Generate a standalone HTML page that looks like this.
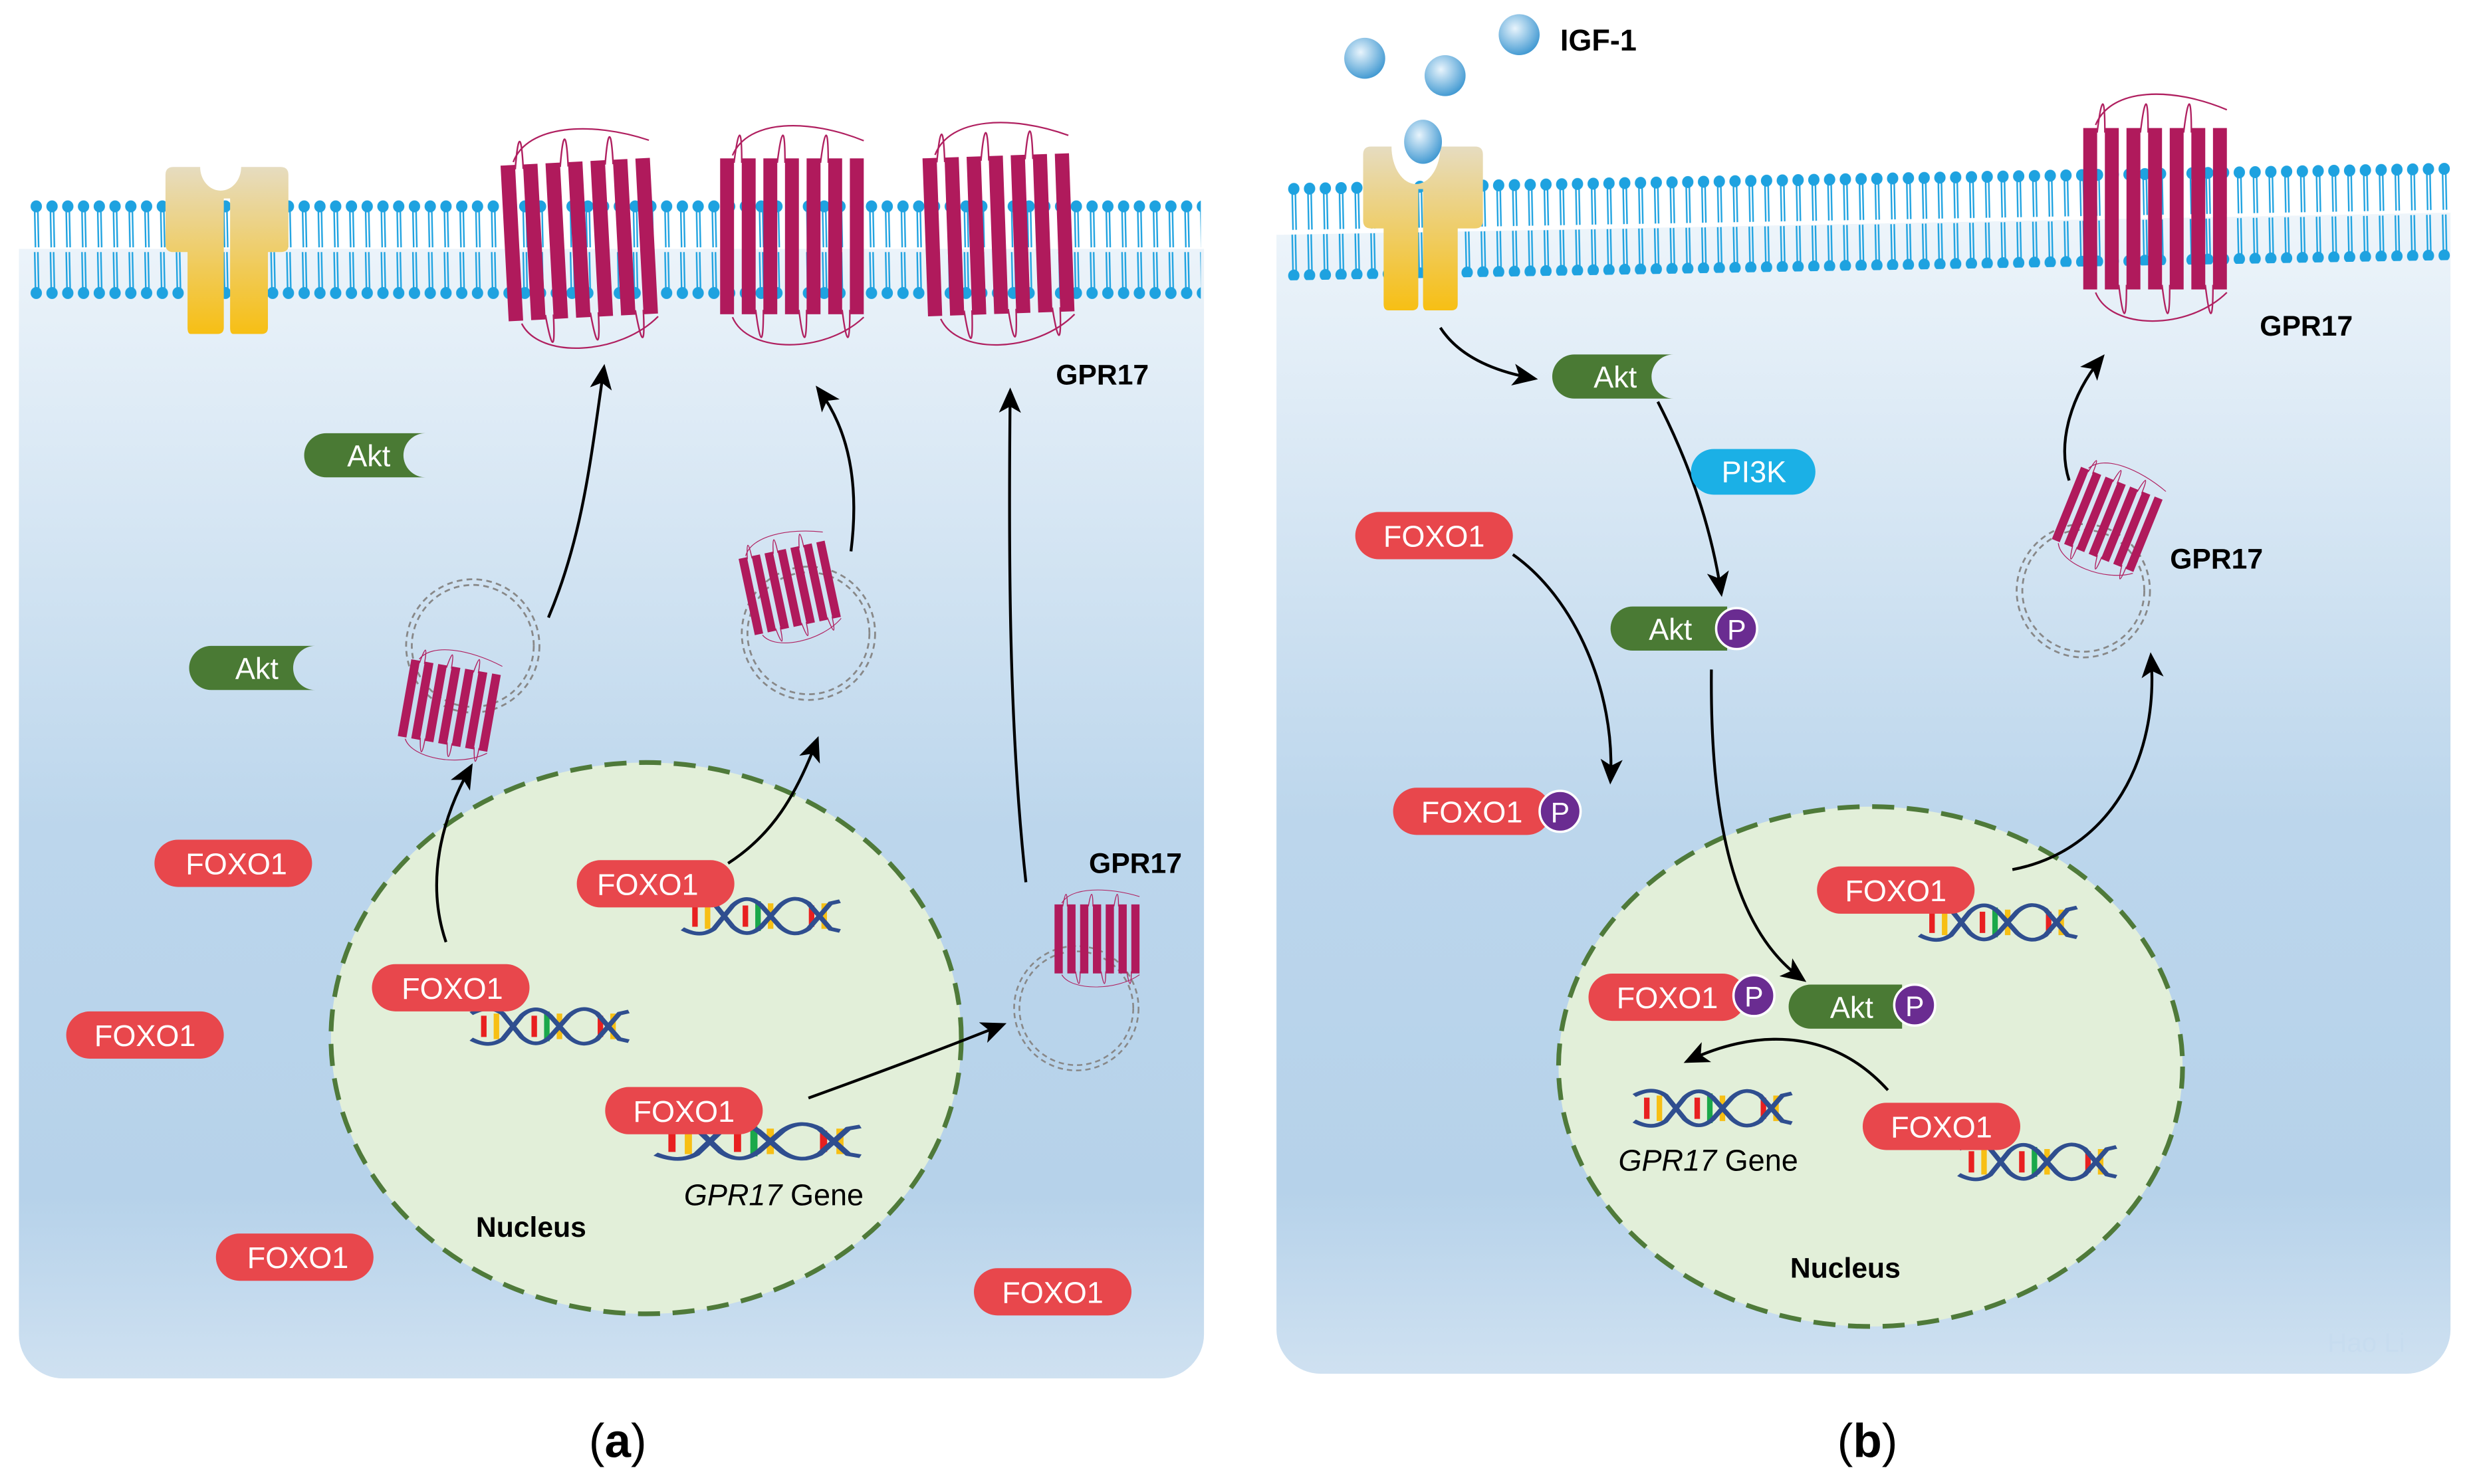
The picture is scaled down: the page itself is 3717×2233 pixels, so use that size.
<!DOCTYPE html>
<html><head><meta charset="utf-8"><style>
html,body{margin:0;padding:0;background:#fff;}
svg{display:block;}
text{font-family:"Liberation Sans",sans-serif;}
</style></head><body>
<svg width="3717" height="2233" viewBox="0 0 1568 942" xmlns="http://www.w3.org/2000/svg">
<defs>
<linearGradient id="bg" x1="0" y1="0" x2="0" y2="1">
<stop offset="0" stop-color="#f3f8fc"/><stop offset="0.55" stop-color="#bcd6ec"/><stop offset="0.85" stop-color="#b6d2ea"/><stop offset="1" stop-color="#cfe1f1"/>
</linearGradient>
<linearGradient id="yel" x1="0" y1="0" x2="0" y2="1"><stop offset="0" stop-color="#e6dcc0"/><stop offset="1" stop-color="#f7bf14"/></linearGradient>
<radialGradient id="ball" cx="0.4" cy="0.35" r="0.7"><stop offset="0" stop-color="#e8f4fc"/><stop offset="1" stop-color="#3a95d0"/></radialGradient>
<pattern id="lip" width="10" height="63" patternUnits="userSpaceOnUse">
<ellipse cx="5" cy="4" rx="3.6" ry="3.8" fill="#1ea2e0"/><ellipse cx="5" cy="59" rx="3.6" ry="3.8" fill="#1ea2e0"/>
<path d="M4 7 L4.5 30 M6 7 L6.5 30 M4 33 L4.5 56 M6 33 L6.5 56" stroke="#1ea2e0" stroke-width="1" fill="none"/>
</pattern>
<marker id="ah" markerWidth="16" markerHeight="14" refX="12" refY="7" orient="auto" markerUnits="userSpaceOnUse"><path d="M0 0 L16 7 L0 14 L4 7z" fill="#000"/></marker>
<symbol id="gpr" viewBox="0 0 100 150" overflow="visible" preserveAspectRatio="none">
<path d="M10 20 C20 -5 60 -5 95 10 M10 130 C20 155 70 155 95 130" stroke="#b02060" fill="none" stroke-width="1"/>
<g fill="#b01a5c">
<rect x="2" y="22" width="9" height="106"/><rect x="16" y="22" width="9" height="106"/><rect x="30" y="22" width="9" height="106"/><rect x="44" y="22" width="9" height="106"/><rect x="58" y="22" width="9" height="106"/><rect x="72" y="22" width="9" height="106"/><rect x="86" y="22" width="9" height="106"/>
</g>
<path d="M11 25 C14 0 16 0 16 25 M39 25 C42 0 44 0 44 25 M67 25 C70 0 72 0 72 25 M25 125 C28 150 30 150 30 125 M53 125 C56 150 58 150 58 125 M81 125 C84 150 86 150 86 125" stroke="#b02060" fill="none" stroke-width="1"/>
</symbol>
<symbol id="dna" viewBox="0 0 100 40" overflow="visible" preserveAspectRatio="none">
<g stroke-width="3.5">
<line x1="8" y1="10" x2="8" y2="30" stroke="#e82020"/><line x1="16" y1="8" x2="16" y2="32" stroke="#f7bf14"/>
<line x1="40" y1="10" x2="40" y2="30" stroke="#e82020"/><line x1="48" y1="6" x2="48" y2="34" stroke="#1aa84a"/><line x1="56" y1="8" x2="56" y2="32" stroke="#f7bf14"/>
<line x1="82" y1="10" x2="82" y2="30" stroke="#e82020"/><line x1="90" y1="8" x2="90" y2="32" stroke="#f7bf14"/>
</g>
<path d="M0 8 C8 2 14 2 20 8 L32 30 C38 38 44 38 50 30 L62 10 C68 2 74 2 80 8 L94 32 L100 34" stroke="#2f4e8f" stroke-width="3.5" fill="none"/>
<path d="M0 32 C8 38 14 38 20 32 L32 10 C38 2 44 2 50 10 L62 30 C68 38 74 38 80 32 L94 8 L100 6" stroke="#2f4e8f" stroke-width="3.5" fill="none"/>
</symbol>
<symbol id="ves" viewBox="-50 -50 100 100" overflow="visible">
<circle r="47" fill="none" stroke="#888" stroke-width="1.3" stroke-dasharray="4 3"/>
<circle r="43" fill="none" stroke="#888" stroke-width="1.3" stroke-dasharray="4 3"/>
</symbol>
</defs>

<!-- Panels -->
<rect x="12" y="100" width="752" height="775" rx="28" fill="url(#bg)"/>
<rect x="0" y="0" width="790" height="158" fill="#fff"/>
<rect x="810" y="95" width="745" height="777" rx="28" fill="url(#bg)"/>
<polygon points="800,0 1568,0 1568,135 1555,135 815,149 800,149" fill="#fff"/>
<!-- membranes -->
<g transform="translate(18,127)"><rect width="744" height="63" fill="url(#lip)"/></g>
<g transform="translate(816,116) skewY(-1)"><rect width="740" height="62" fill="url(#lip)"/></g>

<!-- yellow receptors -->
<g fill="url(#yel)">
<path d="M110 106 H127 A13 15 0 0 0 153 106 H178 Q183 106 183 111 V156 Q183 160 178 160 H170 V208 Q170 212 166 212 H148 Q146 212 146 208 V126 L144 126 L142 126 V208 Q142 212 138 212 H121 Q119 212 119 208 V160 H110 Q105 160 105 155 V111 Q105 106 110 106z"/>
<path d="M870 93 H883 A13 20 0 0 0 914 93 H936 Q941 93 941 98 V140 Q941 145 936 145 H925 V193 Q925 197 921 197 H905 Q903 197 903 193 V120 H900 V193 Q900 197 896 197 H881 Q878 197 878 193 V145 H870 Q865 145 865 140 V98 Q865 93 870 93z"/>
</g>
<ellipse cx="903" cy="90" rx="12" ry="14" fill="url(#ball)"/>
<circle cx="866" cy="37" r="13" fill="url(#ball)"/><circle cx="917" cy="48" r="13" fill="url(#ball)"/><circle cx="964" cy="22" r="13" fill="url(#ball)"/>
<text x="990" y="32" font-size="19" font-weight="bold">IGF-1</text>

<!-- membrane GPR17 -->
<use href="#gpr" x="318" y="82" width="102" height="140" transform="rotate(-3 369 150)"/>
<use href="#gpr" x="455" y="80" width="98" height="140"/>
<use href="#gpr" x="585" y="78" width="100" height="142" transform="rotate(-2 635 146)"/>
<use href="#gpr" x="1320" y="60" width="98" height="145"/>

<!-- nuclei -->
<ellipse cx="410" cy="659" rx="200" ry="175" fill="#e2efd9" stroke="#4f7a3a" stroke-width="3" stroke-dasharray="14 8"/>
<ellipse cx="1187" cy="677" rx="198" ry="165" fill="#e2efd9" stroke="#4f7a3a" stroke-width="3" stroke-dasharray="14 8"/>

<!-- vesicles -->
<use href="#ves" x="255" y="365" width="90" height="90"/>
<use href="#gpr" x="255" y="413" width="62" height="70" transform="rotate(10 286 448)"/>
<use href="#ves" x="468" y="357" width="90" height="90"/>
<use href="#gpr" x="472" y="338" width="60" height="70" transform="rotate(-12 502 373)"/>
<use href="#ves" x="641" y="598" width="84" height="84"/>
<use href="#gpr" x="668" y="565" width="58" height="62"/>
<use href="#ves" x="1277" y="330" width="90" height="90"/>
<use href="#gpr" x="1308" y="295" width="60" height="70" transform="rotate(22 1338 330)"/>

<g font-size="18" font-weight="bold">
<text x="670" y="244">GPR17</text><text x="691" y="554">GPR17</text>
<text x="1434" y="213">GPR17</text><text x="1377" y="361">GPR17</text>
<text x="302" y="785">Nucleus</text><text x="1136" y="811">Nucleus</text>
</g>

<!-- DNA -->
<use href="#dna" x="433" y="568" width="100" height="27"/>
<use href="#dna" x="299" y="638" width="100" height="27"/>
<use href="#dna" x="416" y="711" width="130" height="27"/>
<use href="#dna" x="1218" y="572" width="100" height="27"/>
<use href="#dna" x="1037" y="690" width="100" height="27"/>
<use href="#dna" x="1243" y="724" width="100" height="27"/>
<text x="434" y="765" font-size="19"><tspan font-style="italic">GPR17</tspan> Gene</text>
<text x="1027" y="743" font-size="19"><tspan font-style="italic">GPR17</tspan> Gene</text>

<!-- arrows -->
<g stroke="#000" stroke-width="1.8" fill="none" marker-end="url(#ah)">
<path d="M283 598 C270 560 280 520 298 488"/>
<path d="M348 392 C370 340 375 290 383 235"/>
<path d="M540 350 C545 310 540 275 520 248"/>
<path d="M462 548 C490 530 505 505 518 471"/>
<path d="M651 560 C640 460 640 350 641 250"/>
<path d="M513 697 C560 680 600 665 635 651"/>
<path d="M914 208 C925 225 945 235 972 240"/>
<path d="M1052 255 C1070 290 1085 330 1092 375"/>
<path d="M960 352 C1000 380 1025 440 1022 494"/>
<path d="M1086 425 C1085 520 1100 590 1143 621"/>
<path d="M1198 692 C1160 650 1110 655 1072 673"/>
<path d="M1277 552 C1340 540 1370 480 1365 418"/>
<path d="M1313 305 C1305 280 1315 250 1333 228"/>
</g>

<!-- pills -->
<g fill="#e8474c">
<rect x="98" y="533" width="100" height="30" rx="15"/><rect x="42" y="642" width="100" height="30" rx="15"/>
<rect x="137" y="783" width="100" height="30" rx="15"/><rect x="618" y="805" width="100" height="30" rx="15"/>
<rect x="366" y="546" width="100" height="30" rx="15"/><rect x="236" y="612" width="100" height="30" rx="15"/>
<rect x="384" y="690" width="100" height="30" rx="15"/>
<rect x="860" y="325" width="100" height="30" rx="15"/><rect x="884" y="500" width="100" height="30" rx="15"/>
<rect x="1153" y="550" width="100" height="30" rx="15"/><rect x="1008" y="618" width="100" height="30" rx="15"/>
<rect x="1182" y="700" width="100" height="30" rx="15"/>
</g>
<g fill="#fff" font-size="19" text-anchor="middle">
<text x="150" y="555">FOXO1</text><text x="92" y="664">FOXO1</text><text x="189" y="805">FOXO1</text><text x="668" y="827">FOXO1</text>
<text x="411" y="568">FOXO1</text><text x="287" y="634">FOXO1</text><text x="434" y="712">FOXO1</text>
<text x="910" y="347">FOXO1</text><text x="934" y="522">FOXO1</text>
<text x="1203" y="572">FOXO1</text><text x="1058" y="640">FOXO1</text><text x="1232" y="722">FOXO1</text>
</g>
<!-- Akt -->
<g fill="#4a7a34">
<path d="M207 275 h63 a14 14 0 0 0 0 28 h-63 a14 14 0 0 1 0 -28z"/>
<path d="M134 410 h66 a14 14 0 0 0 0 28 h-66 a14 14 0 0 1 0 -28z"/>
<path d="M999 225 h63 a14 14 0 0 0 0 28 h-63 a14 14 0 0 1 0 -28z"/>
<path d="M1036 385 h60 v28 h-60 a14 14 0 0 1 0 -28z"/>
<path d="M1149 625 h58 v28 h-58 a14 14 0 0 1 0 -28z"/>
</g>
<rect x="1073" y="285" width="79" height="29" rx="14.5" fill="#1bb0e6"/>
<g fill="#6a2c91" stroke="#fff" stroke-width="1.5">
<circle cx="1102" cy="399" r="13"/><circle cx="990" cy="515" r="13"/><circle cx="1113" cy="632" r="13"/><circle cx="1215" cy="638" r="13"/>
</g>
<g fill="#fff" font-size="19" text-anchor="middle">
<text x="234" y="296">Akt</text><text x="163" y="431">Akt</text><text x="1025" y="246">Akt</text>
<text x="1060" y="406">Akt</text><text x="1175" y="646">Akt</text><text x="1113" y="306">PI3K</text>
<text x="1102" y="406" font-size="18">P</text><text x="990" y="522" font-size="18">P</text><text x="1113" y="639" font-size="18">P</text><text x="1215" y="645" font-size="18">P</text>
</g>
<text x="1477" y="858" font-size="17" fill="#c7dcef">Hao Li</text>
<g font-size="30" text-anchor="middle">
<text x="392" y="925" font-family="Liberation Serif, serif">(<tspan font-weight="bold">a</tspan>)</text>
<text x="1185" y="925" font-family="Liberation Serif, serif">(<tspan font-weight="bold">b</tspan>)</text>
</g>
</svg>
</body></html>
